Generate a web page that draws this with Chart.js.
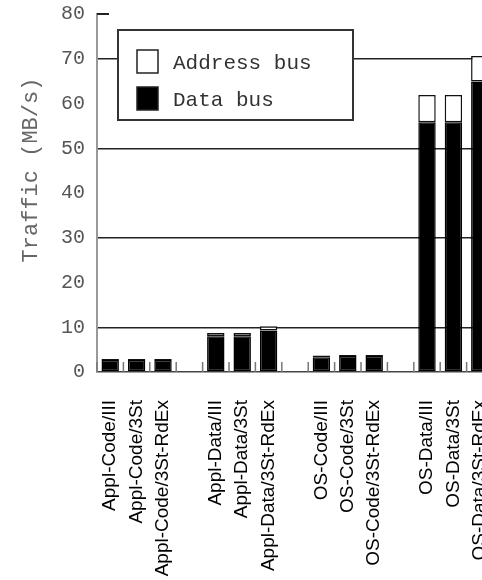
<!DOCTYPE html>
<html>
<head>
<meta charset="utf-8">
<script src="https://cdn.jsdelivr.net/npm/chart.js@4"></script>
<style>
    html, body { margin: 0; padding: 0; background: #fff; overflow: hidden; }
    #traffic-chart { display: block; }
</style>
</head>
<body>
<canvas id="traffic-chart" width="505" height="580"></canvas>
<script>
// Bus traffic per workload / protocol (empty labels are group spacers)
const categories = [
    'Appl-Code/III', 'Appl-Code/3St', 'Appl-Code/3St-RdEx', '',
    'Appl-Data/III', 'Appl-Data/3St', 'Appl-Data/3St-RdEx', '',
    'OS-Code/III', 'OS-Code/3St', 'OS-Code/3St-RdEx', '',
    'OS-Data/III', 'OS-Data/3St', 'OS-Data/3St-RdEx'
];
const dataBus = [2.7, 2.7, 2.7, 0, 8.0, 8.0, 9.3, 0, 3.3, 3.6, 3.6, 0, 55.8, 55.8, 64.9];
const addressBus = [0.2, 0.2, 0.2, 0, 0.7, 0.7, 0.9, 0, 0.4, 0.2, 0.2, 0, 6.1, 6.1, 5.7];
const yTicks = [0, 10, 20, 30, 40, 50, 60, 70, 80];
const yTitle = 'Traffic (MB/s)';

const MONO = '"Liberation Mono", "DejaVu Sans Mono", monospace';

// Boxed legend inside the plot, axis title, and the small category ticks
const boxLegend = {
    id: 'boxLegend',
    beforeDatasetsDraw(chart) {
        const ctx = chart.ctx;
        const x = chart.scales.x;
        const y = chart.scales.y;
        const base = y.getPixelForValue(0);
        const step = x.getPixelForValue(1) - x.getPixelForValue(0);
        ctx.save();
        ctx.strokeStyle = '#777';
        ctx.lineWidth = 1.5;
        for (let i = 0; i <= categories.length; i++) {
            const px = x.getPixelForValue(0) + (i - 0.5) * step;
            ctx.beginPath();
            ctx.moveTo(px, base);
            ctx.lineTo(px, base - 10);
            ctx.stroke();
        }
        // short mark at the top of the axis
        const top = y.getPixelForValue(80);
        ctx.strokeStyle = '#222';
        ctx.lineWidth = 2;
        ctx.beginPath();
        ctx.moveTo(chart.chartArea.left, top);
        ctx.lineTo(chart.chartArea.left + 12, top);
        ctx.stroke();

        // rotated y axis title
        ctx.translate(31, 170);
        ctx.rotate(-Math.PI / 2);
        ctx.fillStyle = '#666';
        ctx.font = '22px ' + MONO;
        ctx.textAlign = 'center';
        ctx.textBaseline = 'middle';
        ctx.fillText(yTitle, 0, 0);
        ctx.restore();
    },
    afterDatasetsDraw(chart) {
        const ctx = chart.ctx;
        ctx.save();
        ctx.fillStyle = '#fff';
        ctx.fillRect(118, 30, 235, 90);
        ctx.strokeStyle = '#333';
        ctx.lineWidth = 2;
        ctx.strokeRect(118, 30, 235, 90);

        const items = chart.data.datasets.slice().reverse();
        items.forEach((ds, i) => {
            const top = 50 + i * 37;
            ctx.fillStyle = ds.backgroundColor;
            ctx.fillRect(137, top, 21, 23);
            ctx.strokeStyle = '#222';
            ctx.lineWidth = 1.5;
            ctx.strokeRect(137, top, 21, 23);
            ctx.fillStyle = '#333';
            ctx.font = '21px ' + MONO;
            ctx.textBaseline = 'middle';
            ctx.fillText(ds.label, 173, top + 13);
        });
        ctx.restore();
    }
};

const ctx = document.getElementById('traffic-chart').getContext('2d');
new Chart(ctx, {
    type: 'bar',
    data: {
        labels: categories,
        datasets: [{
            label: 'Data bus',
            data: dataBus,
            backgroundColor: '#000',
            borderColor: '#000',
            borderWidth: 1.5,
            borderSkipped: false
        }, {
            label: 'Address bus',
            data: addressBus,
            backgroundColor: '#fff',
            borderColor: '#111',
            borderWidth: 1.5,
            borderSkipped: false
        }]
    },
    options: {
        responsive: false,
        animation: false,
        layout: { padding: { top: 14, right: 12, bottom: 0, left: 0 } },
        datasets: {
            bar: { categoryPercentage: 1, barPercentage: 0.66 }
        },
        scales: {
            x: {
                stacked: true,
                grid: { display: false },
                border: { display: true, color: '#444', width: 1.5 },
                ticks: {
                    autoSkip: false,
                    minRotation: 90,
                    maxRotation: 90,
                    padding: 20,
                    color: '#000',
                    font: { family: '"Liberation Sans", Arial, sans-serif', size: 19 }
                },
                afterFit(scale) {
                    scale.height = 208;
                    scale.paddingLeft = 0;
                    scale.paddingRight = 0;
                }
            },
            y: {
                stacked: true,
                min: 0,
                max: 80,
                afterBuildTicks(scale) {
                    scale.ticks = yTicks.map(v => ({ value: v }));
                },
                grid: {
                    drawTicks: false,
                    lineWidth: 1.5,
                    color: c => (c.tick && c.tick.value % 20 === 10) ? '#222' : 'rgba(0,0,0,0)'
                },
                border: { display: true, color: '#999', width: 2 },
                ticks: {
                    padding: 12,
                    color: '#555',
                    font: { family: MONO, size: 20 }
                },
                afterFit(scale) {
                    scale.width = 97;
                    scale.paddingTop = 0;
                    scale.paddingBottom = 0;
                }
            }
        },
        plugins: {
            legend: { display: false },
            tooltip: { enabled: false }
        }
    },
    plugins: [boxLegend]
});
</script>
</body>
</html>
